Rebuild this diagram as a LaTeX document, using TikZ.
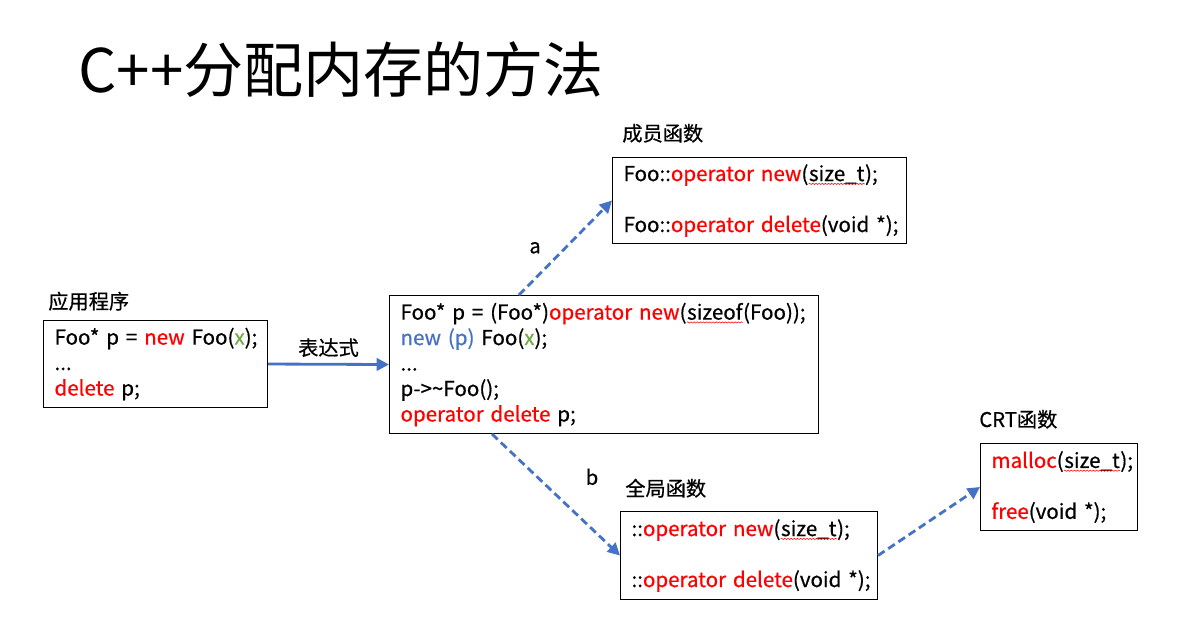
\documentclass[tikz,border=0pt]{standalone}
\usepackage{fontspec}
\setmainfont{Noto Sans CJK SC}
\newfontfamily\bodyfont[RawFeature={embolden=0.6}]{Noto Sans CJK SC}
\usetikzlibrary{arrows.meta,decorations.pathmorphing}
\definecolor{kwred}{HTML}{FF0000}
\definecolor{arrblue}{HTML}{4472C4}
\definecolor{vargreen}{HTML}{70AD47}
\newcommand{\kw}[1]{\textcolor{kwred}{#1}}
\newcommand{\spell}[1]{\tikz[baseline=(w.base)]{\node[draw=none, inner sep=0pt, text width={}, align=center,
    minimum width=0pt, minimum height=0pt, anchor=base] (w) {#1};
  \draw[kwred, line width=0.3pt, decorate, decoration={snake, amplitude=0.35pt, segment length=1.8pt}]
    ([yshift=-1.6pt]w.base west) -- ([yshift=-1.6pt]w.base east);}}
\tikzset{
  codebox/.style={draw, line width=0.6pt, anchor=north west, align=left,
    inner xsep=0.22cm, font=\bodyfont\fontsize{11.7}{14.5}\selectfont},
  title/.style={anchor=south west, inner sep=0pt, font=\bodyfont\fontsize{11.5}{14}\selectfont},
  arr/.style={draw=arrblue, line width=1.6pt, -{Triangle[length=7pt,width=7pt]}},
  dasharr/.style={arr, dash pattern=on 4.5pt off 2.5pt}
}
\begin{document}
\begin{tikzpicture}[x=0.02cm, y=-0.02cm]
    \useasboundingbox (0,0) rectangle (1199,625);
    %titolo
    \node (head) at (78,92) [anchor=base west, inner sep=0pt, font=\fontsize{34.2}{36}\selectfont]{C++分配内存的方法};
    %applicazione
    \node (app) at (43,320) [codebox, minimum width=4.48cm, minimum height=1.74cm, text width=4.04cm]
        {\mbox{Foo* p = \kw{new} Foo(\textcolor{vargreen}{x});}\\ ...\\ \kw{delete} p;};
    \node at (48,311) [title]{应用程序};
    %espressione
    \node (main) at (389,295) [codebox, minimum width=8.58cm, minimum height=2.76cm, text width=8.14cm]
        {\mbox{Foo* p = (Foo*)\kw{operator new}(\spell{sizeof}(Foo));}\\
         \textcolor{arrblue}{new (p)} Foo(\textcolor{vargreen}{x});\\
         ...\\
         p->\textasciitilde Foo();\\
         \kw{operator delete} p;};
    %funzione membro
    \node (member) at (612,157) [codebox, minimum width=5.88cm, minimum height=1.72cm, text width=5.44cm]
        {\mbox{Foo::\kw{operator new}(\spell{size\_t});}\\[14.5pt] \mbox{Foo::\kw{operator delete}(void *);}};
    \node at (622,143) [title]{成员函数};
    %funzione globale
    \node (global) at (620,511) [codebox, minimum width=5.14cm, minimum height=1.76cm, text width=4.70cm]
        {\mbox{::\kw{operator new}(\spell{size\_t});}\\[14.5pt] \mbox{::\kw{operator delete}(void *);}};
    \node at (625,498) [title]{全局函数};
    %CRT
    \node (crt) at (980,443) [codebox, minimum width=3.14cm, minimum height=1.74cm, text width=2.70cm]
        {\mbox{\kw{malloc}(\spell{size\_t});}\\[14.5pt] \mbox{\kw{free}(void *);}};
    \node at (979,429) [title]{CRT函数};
    %frecce
    \draw[arr] (app.east) -- node[above, font=\bodyfont\fontsize{11.5}{14}\selectfont]{表达式} (main.west);
    \draw[dasharr] ([xshift=2.6cm]main.north west) -- node[left, xshift=-0.35cm, font=\bodyfont\fontsize{11.5}{14}\selectfont]{a} (member.west);
    \draw[dasharr] ([xshift=2.06cm]main.south west) -- node[above, xshift=0.72cm, yshift=0.05cm, font=\bodyfont\fontsize{11.5}{14}\selectfont]{b} (global.west);
    \draw[dasharr] (global.east) -- (crt.west);
\end{tikzpicture}
\end{document}
